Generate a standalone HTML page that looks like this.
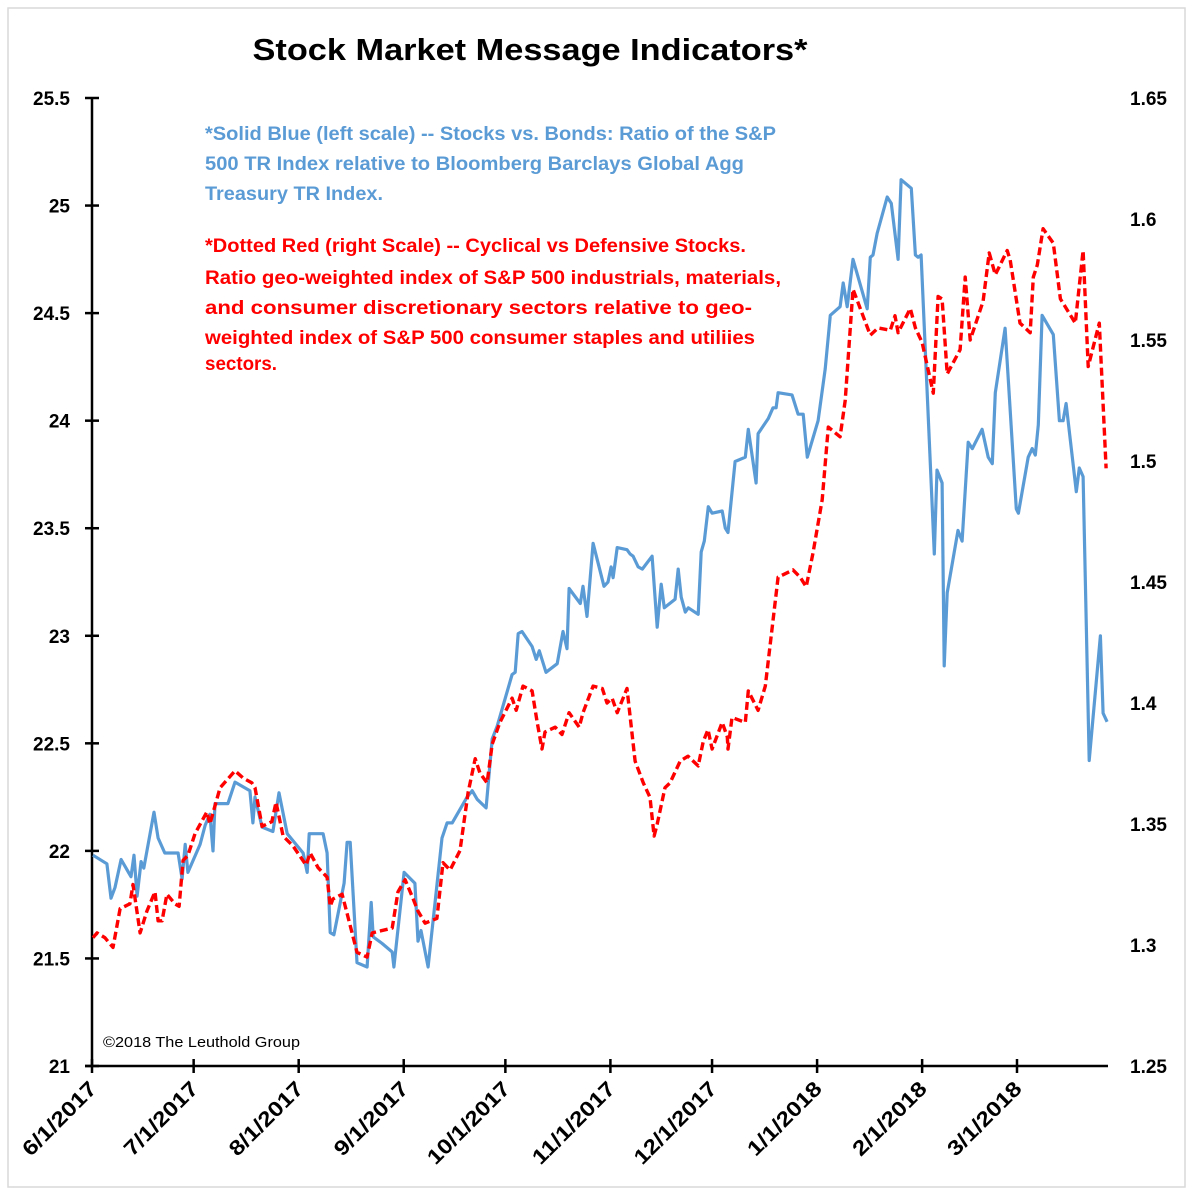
<!DOCTYPE html>
<html><head><meta charset="utf-8">
<style>
html,body{margin:0;padding:0;background:#fff;}
svg{display:block;}
text{font-family:"Liberation Sans",Arial,sans-serif;}
</style></head>
<body>
<svg id="chart" width="1196" height="1200" viewBox="0 0 1196 1200" xmlns="http://www.w3.org/2000/svg">
<rect x="8" y="8" width="1177" height="1179" fill="#fff" stroke="#d9d9d9" stroke-width="1.5"/>
<text x="530" y="60" text-anchor="middle" font-size="31" font-weight="bold" fill="#000" textLength="555" lengthAdjust="spacingAndGlyphs">Stock Market Message Indicators*</text>
<g font-size="19" font-weight="bold" fill="#5b9bd5">
<text x="205" y="140" textLength="571" lengthAdjust="spacingAndGlyphs">*Solid Blue (left scale) -- Stocks vs. Bonds: Ratio of the S&amp;P</text>
<text x="205" y="170" textLength="539" lengthAdjust="spacingAndGlyphs">500 TR Index relative to Bloomberg Barclays Global Agg</text>
<text x="205" y="200" textLength="178" lengthAdjust="spacingAndGlyphs">Treasury TR Index.</text>
</g>
<g font-size="19" font-weight="bold" fill="#ff0000">
<text x="205" y="252" textLength="541" lengthAdjust="spacingAndGlyphs">*Dotted Red (right Scale) -- Cyclical vs Defensive Stocks.</text>
<text x="205" y="284" textLength="576" lengthAdjust="spacingAndGlyphs">Ratio geo-weighted index of S&amp;P 500 industrials, materials,</text>
<text x="205" y="314" textLength="547" lengthAdjust="spacingAndGlyphs">and consumer discretionary sectors relative to geo-</text>
<text x="205" y="344" textLength="550" lengthAdjust="spacingAndGlyphs">weighted index of S&amp;P 500 consumer staples and utiliies</text>
<text x="205" y="370" textLength="72" lengthAdjust="spacingAndGlyphs">sectors.</text>
</g>
<text x="103" y="1047" font-size="14.5" fill="#000" textLength="197" lengthAdjust="spacingAndGlyphs">©2018 The Leuthold Group</text>
<g id="axes"></g>
<g id="series"></g>
</svg>
<script>
// Blue series: day offset from 6/1/2017, left-scale value
const blueDays = [0.3,4.4,5.6,6.8,8.6,11.5,12.4,13.3,14.5,15.3,18.3,19.5,21.5,25.4,26.6,27.5,28.3,31.9,33.4,34.8,35.7,36.3,40.1,42.2,46.6,47.5,48.1,50.2,53.4,55.2,57.6,62.3,63.5,64.1,68.2,69.4,70.3,71.4,74.4,75.3,76.2,78.2,81.2,82.4,83.0,85.6,88.6,89.1,92.1,95.3,96.2,97.1,99.2,103.3,104.8,106.3,110.7,112.2,113.7,116.3,118.1,119.6,124.0,124.9,125.8,126.9,129.9,131.1,132.0,134.0,137.3,139.0,140.2,140.8,144.1,144.9,146.1,147.9,151.1,152.3,153.2,153.8,155.0,157.9,158.8,159.7,161.2,162.4,165.3,166.8,168.0,168.9,172.1,173.0,173.9,175.1,176.0,178.9,179.8,180.7,181.9,183.0,186.0,186.9,187.7,189.8,192.8,193.7,196.0,196.6,199.6,201.0,201.9,202.5,206.6,208.4,209.9,211.1,214.3,216.4,217.9,220.8,221.7,222.9,224.6,228.8,229.7,230.5,231.7,234.7,235.9,237.9,238.8,241.8,243.0,243.8,244.7,248.6,249.4,250.9,251.5,252.4,255.6,256.8,258.6,259.8,262.7,264.5,265.7,266.6,269.5,272.8,273.4,276.3,277.5,278.4,279.3,280.4,283.7,285.5,286.6,287.5,290.5,291.4,292.5,294.3,297.6,298.4,299.6];
const blueValues = [21.98,21.94,21.78,21.83,21.96,21.88,21.98,21.79,21.95,21.92,22.18,22.06,21.99,21.99,21.87,22.03,21.90,22.03,22.12,22.17,22.00,22.22,22.22,22.32,22.28,22.13,22.25,22.11,22.09,22.27,22.08,21.99,21.90,22.08,22.08,21.99,21.62,21.61,21.85,22.04,22.04,21.48,21.46,21.76,21.60,21.57,21.53,21.46,21.90,21.85,21.58,21.63,21.46,22.06,22.13,22.13,22.25,22.28,22.24,22.20,22.52,22.58,22.82,22.83,23.01,23.02,22.95,22.89,22.93,22.83,22.87,23.02,22.94,23.22,23.15,23.23,23.09,23.43,23.23,23.25,23.32,23.27,23.41,23.40,23.38,23.37,23.32,23.31,23.37,23.04,23.24,23.13,23.17,23.31,23.18,23.11,23.13,23.10,23.39,23.44,23.60,23.57,23.58,23.50,23.48,23.81,23.83,23.96,23.71,23.94,24.01,24.06,24.06,24.13,24.12,24.03,24.03,23.83,24.00,24.24,24.49,24.53,24.64,24.53,24.75,24.52,24.76,24.77,24.87,25.04,25.01,24.75,25.12,25.08,24.77,24.76,24.77,23.38,23.77,23.71,22.86,23.20,23.49,23.44,23.90,23.87,23.96,23.83,23.80,24.13,24.43,23.59,23.57,23.83,23.87,23.84,23.98,24.49,24.40,24.00,24.00,24.08,23.67,23.78,23.74,22.42,23.00,22.64,22.60];
// Red series: day offset, right-scale value
const redDays = [0.3,1.5,3.8,6.2,8.3,9.7,11.2,12.1,14.2,16.2,18.6,19.5,20.7,22.1,24.5,25.7,26.9,28.3,30.4,33.9,34.8,37.8,42.2,44.6,47.2,48.1,50.2,53.1,54.3,56.4,59.3,63.2,64.4,66.7,69.4,70.3,71.1,73.8,75.3,78.2,81.2,82.7,88.6,90.3,92.4,94.8,96.2,98.3,101.8,103.6,105.7,108.6,111.0,113.1,114.5,116.6,118.1,120.4,124.0,125.2,127.2,129.9,131.4,132.8,133.7,136.7,138.7,140.8,143.8,144.9,147.9,150.6,152.0,153.5,155.0,157.9,160.3,162.7,164.7,165.9,166.8,169.1,170.6,173.6,175.9,178.9,180.4,181.8,183.0,186.0,187.5,187.7,188.9,192.8,193.7,196.6,198.7,202.5,206.9,209.0,210.8,212.8,215.5,217.3,220.8,222.3,224.6,229.7,232.0,235.6,237.0,237.9,241.5,243.0,245.0,248.3,249.7,250.9,252.4,256.2,257.7,259.2,263.0,264.8,266.6,270.1,271.0,273.9,276.9,277.8,279.0,280.7,283.7,285.8,290.2,292.5,294.0,297.3,299.3];
const redValues = [1.303,1.305,1.303,1.299,1.315,1.316,1.317,1.325,1.305,1.314,1.322,1.310,1.310,1.321,1.317,1.316,1.335,1.337,1.346,1.355,1.350,1.365,1.372,1.369,1.367,1.365,1.349,1.351,1.359,1.345,1.341,1.333,1.338,1.332,1.328,1.316,1.319,1.321,1.313,1.297,1.295,1.305,1.307,1.322,1.327,1.319,1.314,1.309,1.311,1.334,1.331,1.339,1.363,1.377,1.371,1.367,1.383,1.392,1.402,1.397,1.407,1.405,1.392,1.381,1.388,1.390,1.387,1.396,1.390,1.396,1.407,1.406,1.400,1.402,1.396,1.406,1.376,1.367,1.361,1.345,1.350,1.365,1.367,1.376,1.378,1.374,1.384,1.389,1.381,1.392,1.386,1.381,1.394,1.392,1.405,1.397,1.407,1.452,1.455,1.452,1.448,1.462,1.484,1.514,1.510,1.525,1.571,1.552,1.555,1.554,1.560,1.553,1.563,1.555,1.549,1.528,1.568,1.567,1.536,1.546,1.576,1.550,1.566,1.586,1.577,1.587,1.583,1.557,1.553,1.576,1.581,1.596,1.590,1.567,1.557,1.587,1.539,1.557,1.497];
const leftTicks = [21,21.5,22,22.5,23,23.5,24,24.5,25,25.5];
const leftTickLabels = ["21","21.5","22","22.5","23","23.5","24","24.5","25","25.5"];
const rightTicks = [1.25,1.3,1.35,1.4,1.45,1.5,1.55,1.6,1.65];
const rightTickLabels = ["1.25","1.3","1.35","1.4","1.45","1.5","1.55","1.6","1.65"];
const xTickDays = [0,30,61,92,122,153,183,214,245,273];
const xTickLabels = ["6/1/2017","7/1/2017","8/1/2017","9/1/2017","10/1/2017","11/1/2017","12/1/2017","1/1/2018","2/1/2018","3/1/2018"];

const NS = "http://www.w3.org/2000/svg";
const X0 = 92, PXD = 925/273, YT = 98, YB = 1066;
function xs(d){ return X0 + d*PXD; }
function yl(v){ return YB - (v-21)/(25.5-21)*(YB-YT); }
function yr(v){ return YB - (v-1.25)/(1.65-1.25)*(YB-YT); }
function mk(tag, attrs, parent){
  const e = document.createElementNS(NS, tag);
  for (const k in attrs) e.setAttribute(k, attrs[k]);
  parent.appendChild(e);
  return e;
}
const axes = document.getElementById('axes');
const series = document.getElementById('series');

const la = mk('line',{x1:X0,y1:YT,x2:X0,y2:YB,stroke:'#000','stroke-width':2.5},axes);


const xa = mk('line',{x1:85,y1:YB,x2:1108,y2:YB,stroke:'#000','stroke-width':2.5},axes);



leftTicks.forEach((v,i)=>{
  const t = mk('line',{x1:85,y1:yl(v),x2:99,y2:yl(v),stroke:'#000','stroke-width':2.5},axes);
  
  
  const l = mk('text',{x:70,y:yl(v)+7,'text-anchor':'end','font-size':19,'font-weight':'bold',fill:'#000'},axes);
  
  
  l.textContent = leftTickLabels[i];
});
rightTicks.forEach((v,i)=>{
  const l = mk('text',{x:1130,y:yr(v)+7,'text-anchor':'start','font-size':19,'font-weight':'bold',fill:'#000'},axes);
  
  
  l.textContent = rightTickLabels[i];
});
xTickDays.forEach((d,i)=>{
  const x = xs(d);
  const t = mk('line',{x1:x,y1:YB-7,x2:x,y2:YB+7,stroke:'#000','stroke-width':2.5},axes);
  
  
  const len = xTickLabels[i].length * 11.9;
  const l = mk('text',{x:0,y:0,'text-anchor':'end','font-size':21,'font-weight':'bold',fill:'#000',textLength:len,lengthAdjust:'spacingAndGlyphs',transform:`translate(${x+6},${YB+24}) rotate(-45)`},axes);
  
  
  l.textContent = xTickLabels[i];
});

const bp = blueDays.map((d,i)=>xs(d).toFixed(1)+','+yl(blueValues[i]).toFixed(1)).join(' ');
const bl = mk('polyline',{points:bp,fill:'none',stroke:'#5b9bd5','stroke-width':3.2,'stroke-linejoin':'round'},series);


const rp = redDays.map((d,i)=>xs(d).toFixed(1)+','+yr(redValues[i]).toFixed(1)).join(' ');
const rl = mk('polyline',{points:rp,fill:'none',stroke:'#ff0000','stroke-width':3.4,'stroke-dasharray':'8,4','stroke-linejoin':'round'},series);


</script>
</body></html>
